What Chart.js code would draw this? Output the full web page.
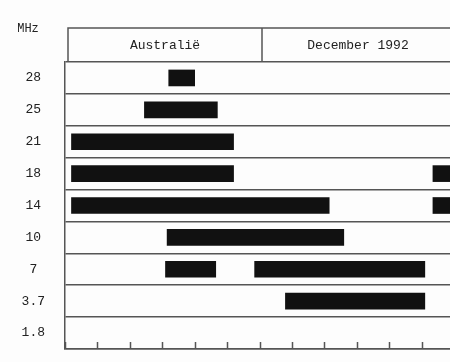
<!DOCTYPE html>
<html>
<head>
<meta charset="utf-8">
<title>Australië — December 1992</title>
<script src="https://cdn.jsdelivr.net/npm/chart.js@4/dist/chart.umd.min.js"></script>
<style>
  html, body { margin: 0; padding: 0; background: #fdfdfd; overflow: hidden; }
  #wrap { width: 456px; height: 362px; }
</style>
</head>
<body>
<div id="wrap"><canvas id="chart" width="456" height="362"></canvas></div>
<script>
/* ============ DATA (UTC hours per band) ============ */
const bands = ['28', '25', '21', '18', '14', '10', '7', '3.7', '1.8'];
const firstOpening = [[6.4, 8.0], [4.9, 9.4], [0.4, 10.4], [0.4, 10.4], [0.4, 16.3], [6.3, 17.2], [6.2, 9.3], [13.6, 22.2], null];
const secondOpening = [null, null, null, [22.7, 24], [22.7, 24], null, [11.7, 22.2], null, null];
const hourTicks = [0, 2, 4, 6, 8, 10, 12, 14, 16, 18, 20, 22, 24];

const headerLeft = 'Australië';
const headerRight = 'December 1992';
const unitLabel = 'MHz';

/* ============ STYLE ============ */
const ink = '#111';
const lineColor = '#555';
const textColor = '#222';
const monoFont = "'Liberation Mono', 'Courier New', monospace";

/* ============ FRAME PLUGIN: header box, unit, inner ticks ============ */
const framePlugin = {
  id: 'frame',
  afterDraw(chart) {
    const { ctx, chartArea: a, scales: { x } } = chart;
    const headTop = 28;
    const headLeft = 68;
    const split = 262;
    ctx.save();
    ctx.strokeStyle = lineColor;
    ctx.lineWidth = 1.5;

    // header box
    ctx.beginPath();
    ctx.moveTo(headLeft, a.top);
    ctx.lineTo(headLeft, headTop);
    ctx.lineTo(a.right, headTop);
    ctx.moveTo(split, headTop);
    ctx.lineTo(split, a.top);
    ctx.stroke();

    // short tick marks pointing up from the time axis
    ctx.beginPath();
    hourTicks.forEach((h) => {
      const px = Math.round(x.getPixelForValue(h)) + 0.5;
      ctx.moveTo(px, a.bottom);
      ctx.lineTo(px, a.bottom - 7);
    });
    ctx.stroke();

    // texts
    ctx.fillStyle = textColor;
    ctx.font = `13px ${monoFont}`;
    ctx.textAlign = 'center';
    ctx.textBaseline = 'middle';
    const midY = (headTop + a.top) / 2 + 1;
    ctx.fillText(headerLeft, (headLeft + split) / 2, midY);
    ctx.fillText(headerRight, (split + a.right) / 2, midY);
    ctx.font = `12px ${monoFont}`;
    ctx.fillText(unitLabel, 28, 29);
    ctx.restore();
  },
};

/* ============ CHART ============ */
new Chart(document.getElementById('chart'), {
  type: 'bar',
  data: {
    labels: bands,
    datasets: [
      { data: firstOpening, backgroundColor: ink, barThickness: 16, grouped: false },
      { data: secondOpening, backgroundColor: ink, barThickness: 16, grouped: false },
    ],
  },
  options: {
    indexAxis: 'y',
    responsive: false,
    animation: false,
    layout: { padding: { top: 62, bottom: 13, left: 0, right: 2 } },
    plugins: {
      legend: { display: false },
      tooltip: { enabled: false },
    },
    scales: {
      x: {
        type: 'linear',
        min: 0,
        max: 24,
        afterBuildTicks: (s) => { s.ticks = hourTicks.map((v) => ({ value: v })); },
        afterFit: (s) => { s.height = 0; },
        ticks: { display: false },
        grid: { display: false },
        border: { display: true, color: lineColor, width: 1.5 },
      },
      y: {
        type: 'category',
        afterFit: (s) => { s.width = 65; },
        grid: {
          color: lineColor,
          lineWidth: 1.5,
          offset: true,
          drawTicks: true,
          tickLength: 20,
          tickColor: 'rgba(0,0,0,0)',
        },
        border: { display: true, color: lineColor, width: 1.5 },
        ticks: {
          crossAlign: 'center',
          padding: 0,
          color: textColor,
          font: { family: monoFont, size: 13 },
        },
      },
    },
  },
  plugins: [framePlugin],
});
</script>
</body>
</html>
